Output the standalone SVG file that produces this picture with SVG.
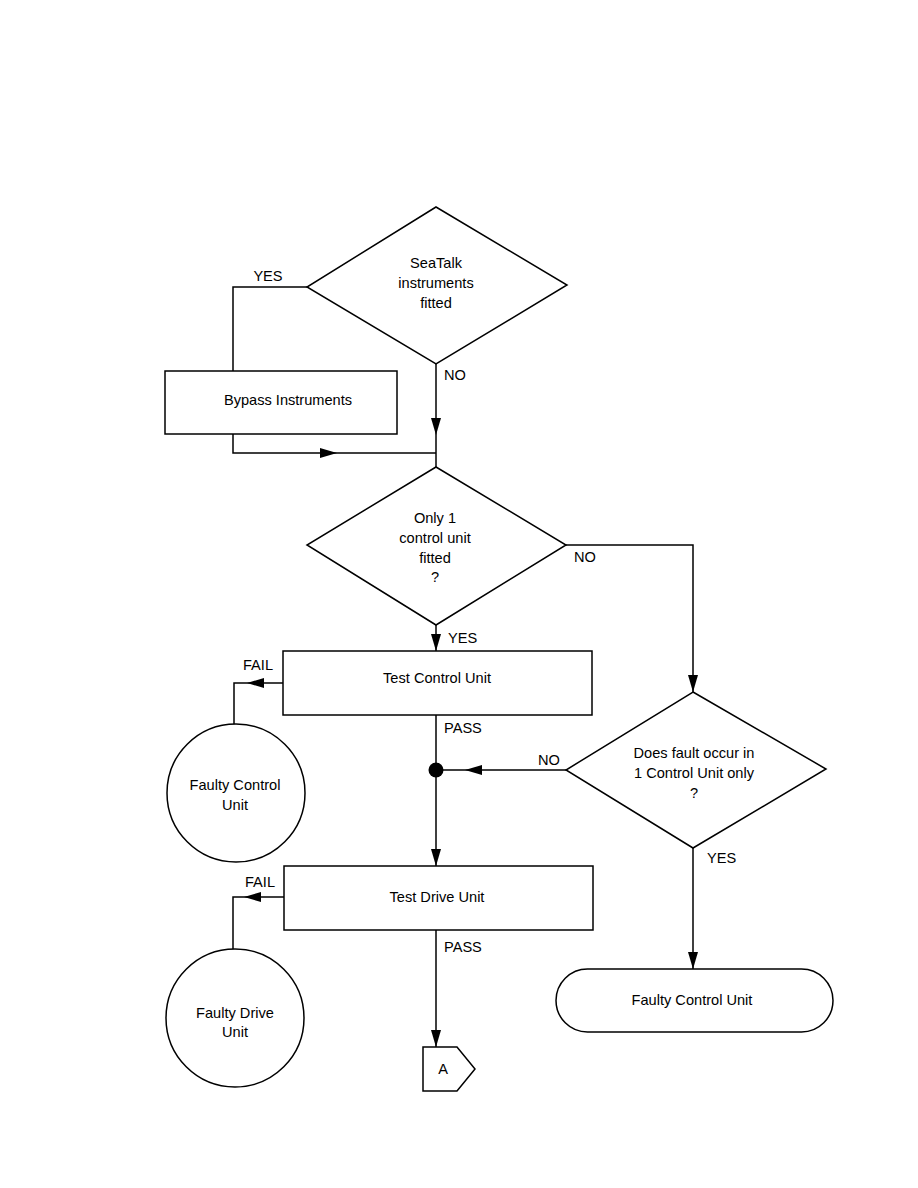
<svg xmlns="http://www.w3.org/2000/svg" width="918" height="1188" viewBox="0 0 918 1188">
<style>
.s{fill:#fff;stroke:#000;stroke-width:1.5}
.c{fill:none;stroke:#000;stroke-width:1.5}
text{font-family:"Liberation Sans",Arial,sans-serif;font-size:14.6px;fill:#000}
.m{text-anchor:middle}
</style>
<defs>
<marker id="ah" viewBox="0 0 17 10" refX="17" refY="5" markerWidth="17" markerHeight="10" markerUnits="userSpaceOnUse" orient="auto">
<path d="M0,0 L17,5 L0,10 z" fill="#000"/>
</marker>
</defs>
<rect width="918" height="1188" fill="#fff"/>
<g id="connectors">
<path class="c" d="M307,287 H233 V371"/>
<path class="c" d="M233,434 V453 H337" marker-end="url(#ah)"/>
<path class="c" d="M337,453 H436"/>
<path class="c" d="M436,364 V435" marker-end="url(#ah)"/>
<path class="c" d="M436,435 V467"/>
<path class="c" d="M436,625 V651" marker-end="url(#ah)"/>
<path class="c" d="M566,545 H693 V692" marker-end="url(#ah)"/>
<path class="c" d="M283,683 H247" marker-end="url(#ah)"/>
<path class="c" d="M247,683 H234 V725"/>
<path class="c" d="M436,715 V866" marker-end="url(#ah)"/>
<path class="c" d="M566,770 H465" marker-end="url(#ah)"/>
<path class="c" d="M465,770 H436"/>
<circle cx="436" cy="770" r="7.5" fill="#000"/>
<path class="c" d="M693,848 V969" marker-end="url(#ah)"/>
<path class="c" d="M284,897 H244" marker-end="url(#ah)"/>
<path class="c" d="M244,897 H233 V950"/>
<path class="c" d="M436,930 V1047" marker-end="url(#ah)"/>
<text x="268" y="281" class="m">YES</text>
<text x="444" y="380">NO</text>
<text x="574" y="562">NO</text>
<text x="448" y="643">YES</text>
<text x="243" y="670">FAIL</text>
<text x="444" y="733">PASS</text>
<text x="538" y="765">NO</text>
<text x="707" y="863">YES</text>
<text x="245" y="887">FAIL</text>
<text x="444" y="952">PASS</text>
</g>
<g id="d1">
<polygon class="s" points="436,207 567,285 436,364 307,287"/>
<text x="436" y="268" class="m">SeaTalk</text>
<text x="436" y="288" class="m">instruments</text>
<text x="436" y="308" class="m">fitted</text>
</g>
<g id="bypass">
<rect class="s" x="165" y="371" width="232" height="63"/>
<text x="288" y="405" class="m">Bypass Instruments</text>
</g>
<g id="d2">
<polygon class="s" points="436,467 566,545 436,625 307,545"/>
<text x="435" y="523" class="m">Only 1</text>
<text x="435" y="543" class="m">control unit</text>
<text x="435" y="563" class="m">fitted</text>
<text x="435" y="582" class="m">?</text>
</g>
<g id="testcontrol">
<rect class="s" x="283" y="651" width="309" height="64"/>
<text x="437" y="683" class="m">Test Control Unit</text>
</g>
<g id="faultycontrol1">
<circle class="s" cx="236" cy="793" r="69"/>
<text x="235" y="790" class="m">Faulty Control</text>
<text x="235" y="810" class="m">Unit</text>
</g>
<g id="d3">
<polygon class="s" points="693,692 826,769 693,848 566,770"/>
<text x="694" y="758" class="m">Does fault occur in</text>
<text x="694" y="778" class="m">1 Control Unit only</text>
<text x="694" y="798" class="m">?</text>
</g>
<g id="testdrive">
<rect class="s" x="284" y="866" width="309" height="64"/>
<text x="437" y="902" class="m">Test Drive Unit</text>
</g>
<g id="faultydrive">
<circle class="s" cx="235" cy="1018" r="69"/>
<text x="235" y="1018" class="m">Faulty Drive</text>
<text x="235" y="1037" class="m">Unit</text>
</g>
<g id="connA">
<polygon class="s" points="423,1047 457,1047 475,1069 457,1091 423,1091"/>
<text x="443" y="1074" class="m">A</text>
</g>
<g id="faultycontrol2">
<rect class="s" x="556" y="969" width="277" height="63" rx="31.5" ry="31.5"/>
<text x="692" y="1005" class="m">Faulty Control Unit</text>
</g>
</svg>
